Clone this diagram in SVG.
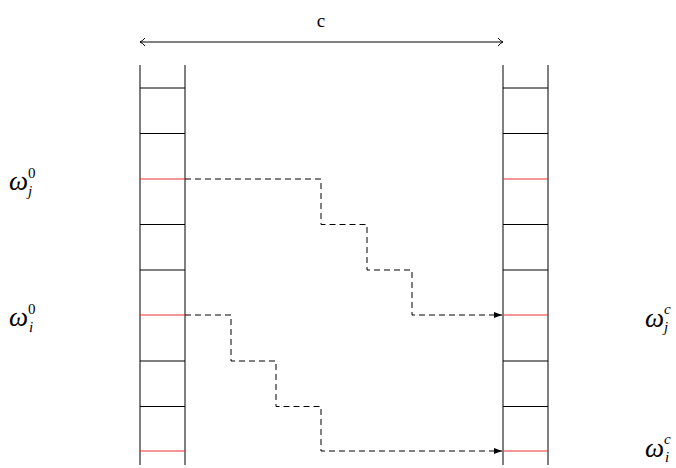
<svg xmlns="http://www.w3.org/2000/svg" width="676" height="468" viewBox="0 0 676 468">
<style>
.rail{stroke:#000;stroke-width:1;fill:none}
.rung{stroke:#000;stroke-width:1}
.red{stroke:#ee3333;stroke-width:1.2}
.dash{stroke:#000;stroke-width:1;fill:none;stroke-dasharray:6 4}
.lbl{font-family:"Liberation Serif","DejaVu Serif",serif;font-style:italic;font-size:27px;fill:#000}
.sup{font-family:"Liberation Serif","DejaVu Serif",serif;font-size:15px;fill:#000}
.sub{font-family:"Liberation Serif","DejaVu Serif",serif;font-style:italic;font-size:15px;fill:#000}
.top{font-family:"Liberation Serif","DejaVu Serif",serif;font-size:19px;fill:#000}
</style>
<defs>
<marker id="tri" viewBox="0 0 8 6" refX="8" refY="3" markerWidth="8" markerHeight="6" orient="auto" markerUnits="userSpaceOnUse">
<path d="M0,0 L8,3 L0,6 z" fill="#000"/>
</marker>
<marker id="open" viewBox="0 0 6 10" refX="5.5" refY="5" markerWidth="6" markerHeight="10" orient="auto-start-reverse" markerUnits="userSpaceOnUse">
<path d="M0.5,1 Q3,4 5.5,5 Q3,6 0.5,9" fill="none" stroke="#000" stroke-width="1"/>
</marker>
</defs>
<g id="width">
<line x1="140" y1="42" x2="503" y2="42" stroke="#000" stroke-width="1" marker-start="url(#open)" marker-end="url(#open)"/>
<text class="top" x="321" y="27" text-anchor="middle">c</text>
</g>
<g id="left-column">
<line class="rail" x1="140" y1="65" x2="140" y2="465"/>
<line class="rail" x1="185" y1="65" x2="185" y2="465"/>
<line class="rung" x1="140" y1="88" x2="185" y2="88"/>
<line class="rung" x1="140" y1="133.5" x2="185" y2="133.5"/>
<line class="red" x1="140" y1="179" x2="185" y2="179"/>
<line class="rung" x1="140" y1="224.5" x2="185" y2="224.5"/>
<line class="rung" x1="140" y1="270" x2="185" y2="270"/>
<line class="red" x1="140" y1="315" x2="185" y2="315"/>
<line class="rung" x1="140" y1="361" x2="185" y2="361"/>
<line class="rung" x1="140" y1="406.5" x2="185" y2="406.5"/>
<line class="red" x1="140" y1="451" x2="185" y2="451"/>
</g>
<g id="right-column">
<line class="rail" x1="503" y1="65" x2="503" y2="465"/>
<line class="rail" x1="548" y1="65" x2="548" y2="465"/>
<line class="rung" x1="503" y1="88" x2="548" y2="88"/>
<line class="rung" x1="503" y1="133.5" x2="548" y2="133.5"/>
<line class="red" x1="503" y1="179" x2="548" y2="179"/>
<line class="rung" x1="503" y1="224.5" x2="548" y2="224.5"/>
<line class="rung" x1="503" y1="270" x2="548" y2="270"/>
<line class="red" x1="503" y1="315" x2="548" y2="315"/>
<line class="rung" x1="503" y1="361" x2="548" y2="361"/>
<line class="rung" x1="503" y1="406.5" x2="548" y2="406.5"/>
<line class="red" x1="503" y1="451" x2="548" y2="451"/>
</g>
<g id="connectors">
<path class="dash" d="M185,179 H321 V224.5 H367 V270 H412 V315 H502" marker-end="url(#tri)"/>
<path class="dash" d="M185,315 H231 V361 H276 V406.5 H321 V451 H502" marker-end="url(#tri)"/>
</g>
<g id="label-wj0">
<text class="lbl" x="9" y="190">ω</text><text class="sup" x="28" y="178">0</text><text class="sub" x="28" y="196">j</text>
</g>
<g id="label-wi0">
<text class="lbl" x="9" y="326">ω</text><text class="sup" x="28" y="314">0</text><text class="sub" x="29" y="332">i</text>
</g>
<g id="label-wjc">
<text class="lbl" x="645" y="327">ω</text><text class="sub" x="664" y="314">c</text><text class="sub" x="664" y="332">j</text>
</g>
<g id="label-wic">
<text class="lbl" x="645" y="457">ω</text><text class="sub" x="664" y="444">c</text><text class="sub" x="665" y="462">i</text>
</g>
</svg>
